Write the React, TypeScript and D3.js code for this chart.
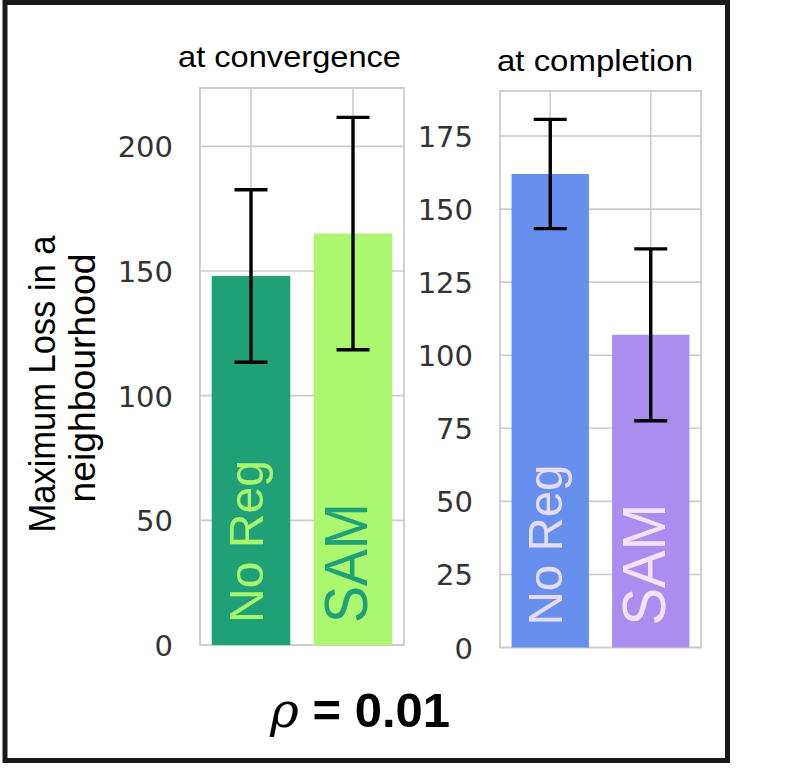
import React from 'react';
import * as d3 from 'd3';

// values
const categories = ['No Reg', 'SAM'];
const convergenceMeans = [148, 165];
const convergenceErrs = [34.6, 46.6];
const completionMeans = [162, 107];
const completionErrs = [18.7, 29.4];
const convergenceTicks = [0, 50, 100, 150, 200];
const completionTicks = [0, 25, 50, 75, 100, 125, 150, 175];

const convergenceBar = ['#1fa077', '#abf870'];
const convergenceText = ['#a8f56e', '#1fa077'];
const completionBar = ['#678fed', '#a98eef'];
const completionText = ['#e6dcf5', '#f5e2f8'];

const W = 791;
const H = 772;
const gridColor = '#cccccc';

type PanelProps = {
  left: number;
  right: number;
  top: number;
  bottom: number;
  yMax: number;
  ticks: number[];
  means: number[];
  errs: number[];
  barColors: string[];
  textColors: string[];
  title: string;
  titleX: number;
  titleY: number;
  titleLen: number;
  labelSizes: number[];
  labelLens: number[];
};

const Panel = (p: PanelProps) => {
  const x = d3.scaleBand<string>()
    .domain(categories)
    .range([p.left, p.right])
    .paddingInner(0.23)
    .paddingOuter(0.115);
  const y = d3.scaleLinear().domain([0, p.yMax]).range([p.bottom, p.top]);
  const bw = x.bandwidth();
  return (
    <g>
      {/* grid */}
      {p.ticks.map((t) => (
        <line key={'h' + t} x1={p.left} x2={p.right} y1={y(t)} y2={y(t)}
          stroke={gridColor} strokeWidth={1.6} />
      ))}
      {categories.map((c) => (
        <line key={'v' + c} x1={x(c)! + bw / 2} x2={x(c)! + bw / 2} y1={p.top} y2={p.bottom}
          stroke={gridColor} strokeWidth={1.6} />
      ))}
      <rect x={p.left} y={p.top} width={p.right - p.left} height={p.bottom - p.top}
        fill="none" stroke={gridColor} strokeWidth={1.8} />
      {/* tick labels */}
      {p.ticks.map((t) => (
        <text key={'t' + t} x={p.left - 27} y={y(t) + 11} textAnchor="end"
          fontFamily="DejaVu Sans" fontSize={29} fill="#333333">{t}</text>
      ))}
      {/* bars */}
      {categories.map((c, i) => (
        <rect key={'b' + c} x={x(c)} y={y(p.means[i])} width={bw}
          height={y(0) - y(p.means[i])} fill={p.barColors[i]} />
      ))}
      {/* bar labels */}
      {categories.map((c, i) => {
        const bx = x(c)! + bw * 0.655 + (i === 1 ? 2 : 0);
        const by = p.bottom - 22;
        return (
          <text key={'l' + c} transform={`translate(${bx},${by}) rotate(-90)`}
            fontFamily="Liberation Sans, Arial, sans-serif" fontSize={p.labelSizes[i]}
            textLength={p.labelLens[i]} lengthAdjust="spacingAndGlyphs"
            fill={p.textColors[i]}>{c}</text>
        );
      })}
      {/* error bars */}
      {categories.map((c, i) => {
        const cx = x(c)! + bw / 2;
        const lo = y(p.means[i] - p.errs[i]);
        const hi = y(p.means[i] + p.errs[i]);
        return (
          <g key={'e' + c} stroke="#000" strokeWidth={3.4}>
            <line x1={cx} x2={cx} y1={lo} y2={hi} />
            <line x1={cx - 16.5} x2={cx + 16.5} y1={lo} y2={lo} />
            <line x1={cx - 16.5} x2={cx + 16.5} y1={hi} y2={hi} />
          </g>
        );
      })}
      <text x={p.titleX} y={p.titleY} fontFamily="Liberation Sans, Arial, sans-serif"
        fontSize={29} textLength={p.titleLen} lengthAdjust="spacingAndGlyphs"
        fill="#000">{p.title}</text>
    </g>
  );
};

const App = () => {
  return (
    <svg width={W} height={H} style={{ position: 'absolute', left: 0, top: 0 }}>
      <rect x={0} y={0} width={W} height={H} fill="#fff" />
      <Panel left={200} right={404} top={88} bottom={645} yMax={223.4}
        ticks={convergenceTicks} means={convergenceMeans} errs={convergenceErrs}
        barColors={convergenceBar} textColors={convergenceText}
        title="at convergence" titleX={178} titleY={67} titleLen={223}
        labelSizes={[49, 62]} labelLens={[163, 120]} />
      <Panel left={500} right={701} top={91} bottom={647.5} yMax={190.4}
        ticks={completionTicks} means={completionMeans} errs={completionErrs}
        barColors={completionBar} textColors={completionText}
        title="at completion" titleX={497} titleY={71} titleLen={196}
        labelSizes={[49, 62]} labelLens={[161, 122]} />
      {/* y label */}
      <g transform="translate(55,384) rotate(-90)">
        <text x={0} y={0} textAnchor="middle" fontFamily="Liberation Sans, Arial, sans-serif"
          fontSize={37} textLength={297} lengthAdjust="spacingAndGlyphs">Maximum Loss in a</text>
      </g>
      <g transform="translate(95,378) rotate(-90)">
        <text x={0} y={0} textAnchor="middle" fontFamily="Liberation Sans, Arial, sans-serif"
          fontSize={37} textLength={249} lengthAdjust="spacingAndGlyphs">neighbourhood</text>
      </g>
      {/* rho */}
      <text x={270} y={727} fontFamily="Liberation Sans, Arial, sans-serif" fontSize={49}
        fontWeight="bold" fill="#000">
        <tspan fontStyle="italic" fontWeight="normal" fontFamily="DejaVu Serif">ρ</tspan>
        <tspan> = 0.01</tspan>
      </text>
      {/* frame */}
      <rect x={5} y={2.5} width={722.5} height={758} fill="none" stroke="#1a1a1a" strokeWidth={5} />
    </svg>
  );
};

export default App;
